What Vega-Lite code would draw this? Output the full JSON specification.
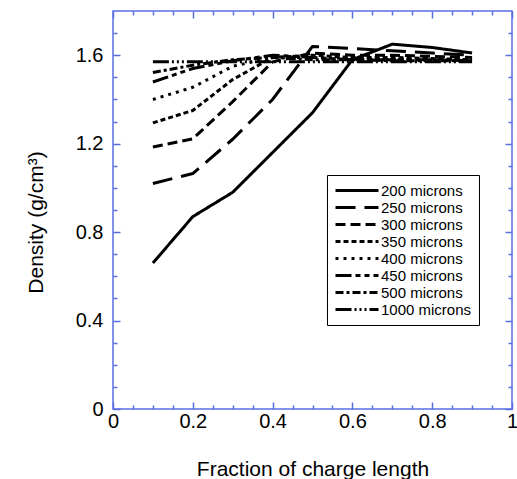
{
  "$schema": "https://vega.github.io/schema/vega-lite/v6.json",
  "width": 399,
  "height": 398,
  "autosize": {"type": "none"},
  "padding": {"left": 113, "top": 11, "right": 5, "bottom": 70},
  "config": {
    "view": {"stroke": "#5a6fe3", "strokeWidth": 1.5},
    "font": "Liberation Sans",
    "axis": {
      "domain": false,
      "grid": false,
      "tickColor": "#5a6fe3",
      "tickWidth": 1.5,
      "labelColor": "black",
      "titleColor": "black",
      "labelFont": "Liberation Sans",
      "titleFont": "Liberation Sans",
      "labelFontSize": 20,
      "titleFontSize": 21,
      "titleFontWeight": "normal"
    }
  },
  "data": {
    "values": [
      {"x": 0.1, "y": 0.66, "s": "200 microns"},
      {"x": 0.2, "y": 0.87, "s": "200 microns"},
      {"x": 0.3, "y": 0.98, "s": "200 microns"},
      {"x": 0.4, "y": 1.16, "s": "200 microns"},
      {"x": 0.5, "y": 1.34, "s": "200 microns"},
      {"x": 0.6, "y": 1.58, "s": "200 microns"},
      {"x": 0.7, "y": 1.65, "s": "200 microns"},
      {"x": 0.8, "y": 1.635, "s": "200 microns"},
      {"x": 0.9, "y": 1.61, "s": "200 microns"},
      {"x": 0.1, "y": 1.02, "s": "250 microns"},
      {"x": 0.2, "y": 1.065, "s": "250 microns"},
      {"x": 0.3, "y": 1.22, "s": "250 microns"},
      {"x": 0.4, "y": 1.4, "s": "250 microns"},
      {"x": 0.5, "y": 1.64, "s": "250 microns"},
      {"x": 0.6, "y": 1.63, "s": "250 microns"},
      {"x": 0.7, "y": 1.62, "s": "250 microns"},
      {"x": 0.8, "y": 1.61, "s": "250 microns"},
      {"x": 0.9, "y": 1.6, "s": "250 microns"},
      {"x": 0.1, "y": 1.185, "s": "300 microns"},
      {"x": 0.2, "y": 1.222, "s": "300 microns"},
      {"x": 0.3, "y": 1.39, "s": "300 microns"},
      {"x": 0.4, "y": 1.57, "s": "300 microns"},
      {"x": 0.5, "y": 1.61, "s": "300 microns"},
      {"x": 0.6, "y": 1.6, "s": "300 microns"},
      {"x": 0.7, "y": 1.6, "s": "300 microns"},
      {"x": 0.8, "y": 1.595, "s": "300 microns"},
      {"x": 0.9, "y": 1.59, "s": "300 microns"},
      {"x": 0.1, "y": 1.294, "s": "350 microns"},
      {"x": 0.2, "y": 1.35, "s": "350 microns"},
      {"x": 0.3, "y": 1.49, "s": "350 microns"},
      {"x": 0.4, "y": 1.59, "s": "350 microns"},
      {"x": 0.5, "y": 1.6, "s": "350 microns"},
      {"x": 0.6, "y": 1.59, "s": "350 microns"},
      {"x": 0.7, "y": 1.59, "s": "350 microns"},
      {"x": 0.8, "y": 1.585, "s": "350 microns"},
      {"x": 0.9, "y": 1.58, "s": "350 microns"},
      {"x": 0.1, "y": 1.4, "s": "400 microns"},
      {"x": 0.2, "y": 1.455, "s": "400 microns"},
      {"x": 0.3, "y": 1.55, "s": "400 microns"},
      {"x": 0.4, "y": 1.59, "s": "400 microns"},
      {"x": 0.5, "y": 1.59, "s": "400 microns"},
      {"x": 0.6, "y": 1.585, "s": "400 microns"},
      {"x": 0.7, "y": 1.58, "s": "400 microns"},
      {"x": 0.8, "y": 1.58, "s": "400 microns"},
      {"x": 0.9, "y": 1.58, "s": "400 microns"},
      {"x": 0.1, "y": 1.479, "s": "450 microns"},
      {"x": 0.2, "y": 1.54, "s": "450 microns"},
      {"x": 0.3, "y": 1.575, "s": "450 microns"},
      {"x": 0.4, "y": 1.6, "s": "450 microns"},
      {"x": 0.5, "y": 1.59, "s": "450 microns"},
      {"x": 0.6, "y": 1.58, "s": "450 microns"},
      {"x": 0.7, "y": 1.58, "s": "450 microns"},
      {"x": 0.8, "y": 1.58, "s": "450 microns"},
      {"x": 0.9, "y": 1.575, "s": "450 microns"},
      {"x": 0.1, "y": 1.522, "s": "500 microns"},
      {"x": 0.2, "y": 1.555, "s": "500 microns"},
      {"x": 0.3, "y": 1.58, "s": "500 microns"},
      {"x": 0.4, "y": 1.59, "s": "500 microns"},
      {"x": 0.5, "y": 1.58, "s": "500 microns"},
      {"x": 0.6, "y": 1.58, "s": "500 microns"},
      {"x": 0.7, "y": 1.575, "s": "500 microns"},
      {"x": 0.8, "y": 1.575, "s": "500 microns"},
      {"x": 0.9, "y": 1.575, "s": "500 microns"},
      {"x": 0.1, "y": 1.57, "s": "1000 microns"},
      {"x": 0.2, "y": 1.57, "s": "1000 microns"},
      {"x": 0.3, "y": 1.57, "s": "1000 microns"},
      {"x": 0.4, "y": 1.57, "s": "1000 microns"},
      {"x": 0.5, "y": 1.57, "s": "1000 microns"},
      {"x": 0.6, "y": 1.57, "s": "1000 microns"},
      {"x": 0.7, "y": 1.57, "s": "1000 microns"},
      {"x": 0.8, "y": 1.57, "s": "1000 microns"},
      {"x": 0.9, "y": 1.57, "s": "1000 microns"}
    ]
  },
  "layer": [
    {
      "mark": {"type": "line", "color": "black", "strokeWidth": 3, "strokeCap": "butt", "strokeJoin": "round", "clip": true},
      "encoding": {
        "x": {
          "field": "x", "type": "quantitative",
          "scale": {"domain": [0, 1], "nice": false, "zero": false},
          "axis": {"orient": "bottom", "values": [0, 0.2, 0.4, 0.6, 0.8, 1], "ticks": false, "labelPadding": 2, "labelFlush": false,
                   "format": "~g", "title": "Fraction of charge length", "titleY": 66, "titleBaseline": "alphabetic"}
        },
        "y": {
          "field": "y", "type": "quantitative",
          "scale": {"domain": [0, 1.8], "nice": false, "zero": false},
          "axis": {"orient": "left", "values": [0, 0.4, 0.8, 1.2, 1.6], "ticks": false, "labelPadding": 10, "format": "~g",
                   "title": "Density (g/cm³)", "titleX": -71, "titleY": 211, "titleBaseline": "alphabetic"}
        },
        "strokeDash": {
          "field": "s", "type": "nominal",
          "sort": ["200 microns", "250 microns", "300 microns", "350 microns", "400 microns", "450 microns", "500 microns", "1000 microns"],
          "scale": {
            "domain": ["200 microns", "250 microns", "300 microns", "350 microns", "400 microns", "450 microns", "500 microns", "1000 microns"],
            "range": [[1, 0], [20, 9], [10, 5], [5, 3], [3, 5], [16, 4, 5, 4, 5, 4], [8, 3, 3, 3], [16, 3, 2, 3, 2, 3, 2, 3]]
          },
          "legend": {
            "orient": "none", "legendX": 214, "legendY": 164, "title": null,
            "strokeColor": "black", "fillColor": "white", "padding": 7,
            "symbolType": "M-1,0H5.143", "symbolSize": 196, "symbolStrokeWidth": 3, "symbolStrokeColor": "black", "symbolFillColor": "transparent",
            "labelFontSize": 15, "labelFont": "Liberation Sans", "labelColor": "black", "labelOffset": 30, "rowPadding": 0
          }
        }
      }
    },
    {
      "mark": {"type": "point", "opacity": 0},
      "encoding": {
        "x": {"field": "x", "type": "quantitative", "axis": {"orient": "bottom", "values": [0, 0.2, 0.4, 0.6, 0.8, 1], "labels": false, "tickSize": -7, "title": null}},
        "y": {"field": "y", "type": "quantitative", "axis": {"orient": "left", "values": [0, 0.4, 0.8, 1.2, 1.6], "labels": false, "tickSize": -7, "title": null}}
      }
    },
    {
      "mark": {"type": "point", "opacity": 0},
      "encoding": {
        "x": {"field": "x", "type": "quantitative", "axis": {"orient": "bottom", "values": [0.05, 0.1, 0.15, 0.25, 0.3, 0.35, 0.45, 0.5, 0.55, 0.65, 0.7, 0.75, 0.85, 0.9, 0.95], "labels": false, "tickSize": -4, "title": null}},
        "y": {"field": "y", "type": "quantitative", "axis": {"orient": "left", "values": [0.1, 0.2, 0.3, 0.5, 0.6, 0.7, 0.9, 1.0, 1.1, 1.3, 1.4, 1.5, 1.7], "labels": false, "tickSize": -4, "title": null}}
      }
    },
    {
      "mark": {"type": "point", "opacity": 0},
      "encoding": {
        "x": {"field": "x", "type": "quantitative", "axis": {"orient": "top", "values": [0, 0.2, 0.4, 0.6, 0.8, 1], "labels": false, "tickSize": -7, "title": null}},
        "y": {"field": "y", "type": "quantitative", "axis": {"orient": "right", "values": [0, 0.4, 0.8, 1.2, 1.6], "labels": false, "tickSize": -7, "title": null}}
      }
    },
    {
      "mark": {"type": "point", "opacity": 0},
      "encoding": {
        "x": {"field": "x", "type": "quantitative", "axis": {"orient": "top", "values": [0.05, 0.1, 0.15, 0.25, 0.3, 0.35, 0.45, 0.5, 0.55, 0.65, 0.7, 0.75, 0.85, 0.9, 0.95], "labels": false, "tickSize": -4, "title": null}},
        "y": {"field": "y", "type": "quantitative", "axis": {"orient": "right", "values": [0.1, 0.2, 0.3, 0.5, 0.6, 0.7, 0.9, 1.0, 1.1, 1.3, 1.4, 1.5, 1.7], "labels": false, "tickSize": -4, "title": null}}
      }
    }
  ],
  "resolve": {"scale": {"x": "shared", "y": "shared"}, "axis": {"x": "independent", "y": "independent"}}
}
